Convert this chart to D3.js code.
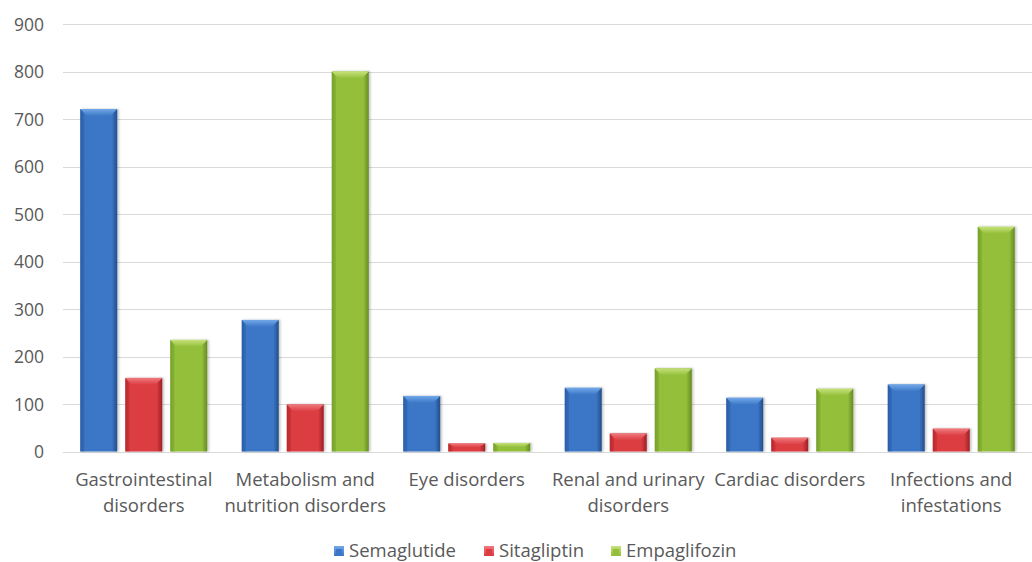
<!DOCTYPE html>
<html><head><meta charset="utf-8">
<script src="https://cdn.jsdelivr.net/npm/d3@7"></script>
<style>
html,body{margin:0;padding:0;background:#fff;}
svg{display:block;font-family:"Open Sans", sans-serif;}
</style></head>
<body><svg id="chart" width="1032" height="562"></svg>
<script>
const categories = ["Gastrointestinal\ndisorders","Metabolism and\nnutrition disorders","Eye disorders","Renal and urinary\ndisorders","Cardiac disorders","Infections and\ninfestations"];
const seriesNames = ["Semaglutide","Sitagliptin","Empaglifozin"];
const semaglutide = [721, 277, 117, 134, 113, 141];
const sitagliptin = [155, 99, 17, 38, 29, 48];
const empaglifozin = [235, 800, 18, 175, 132, 473];
const yTicks = [0,100,200,300,400,500,600,700,800,900];
const colors = {
  Semaglutide: {mid:"#3b77c6", edge:"#2a5da6", top:"#72a8e8", dark:"#224d8a"},
  Sitagliptin: {mid:"#db3c41", edge:"#b8282d", top:"#f07a7d", dark:"#9b2025"},
  Empaglifozin: {mid:"#93bf3b", edge:"#76a02a", top:"#c6e27a", dark:"#668b22"}
};
const seriesValues = [semaglutide, sitagliptin, empaglifozin];

const svg = d3.select("#chart");
const m = {left:63};
const W = 1032;
const y = d3.scaleLinear().domain([0,900]).range([451.5, 24]);
const x0 = d3.scaleBand().domain(categories).range([m.left, W]).padding(0);
const x1 = d3.scaleBand().domain(seriesNames).range([0, x0.bandwidth()]).paddingInner(0.178).paddingOuter(0.383);

const defs = svg.append("defs");
seriesNames.forEach((s,i)=>{
  const c = colors[s];
  const g = defs.append("linearGradient").attr("id","g"+i).attr("x1","0").attr("x2","1").attr("y1","0").attr("y2","0");
  g.append("stop").attr("offset","0").attr("stop-color",c.edge);
  g.append("stop").attr("offset","0.12").attr("stop-color",c.mid);
  g.append("stop").attr("offset","0.85").attr("stop-color",c.mid);
  g.append("stop").attr("offset","1").attr("stop-color",c.dark);
  const t = defs.append("linearGradient").attr("id","t"+i).attr("x1","0").attr("x2","0").attr("y1","0").attr("y2","1");
  t.append("stop").attr("offset","0").attr("stop-color",c.top);
  t.append("stop").attr("offset","1").attr("stop-color",c.mid);
});
const f = defs.append("filter").attr("id","sh").attr("x","-20%").attr("y","-5%").attr("width","140%").attr("height","110%");
f.append("feDropShadow").attr("dx",1.5).attr("dy",0).attr("stdDeviation",1.2).attr("flood-color","#000").attr("flood-opacity",0.25);

// grid
svg.append("g").selectAll("line").data(yTicks).join("line")
  .attr("x1", m.left).attr("x2", W).attr("y1", d=>Math.round(y(d))+0.5).attr("y2", d=>Math.round(y(d))+0.5)
  .attr("stroke","#d9d9d9").attr("stroke-width",1);

// y axis
const yAxis = d3.axisLeft(y).tickValues(yTicks).tickSize(0).tickPadding(0);
const ya = svg.append("g").attr("transform","translate(44,0)").call(yAxis);
ya.select(".domain").remove();
ya.selectAll("text").attr("fill","#595959").style("font-size","17.5px").style("font-family","'Open Sans', sans-serif").attr("dy","0.36em");

// bars
const groups = svg.append("g").selectAll("g").data(categories).join("g")
  .attr("transform", d=>`translate(${x0(d)},0)`);
groups.each(function(cat, ci){
  const g = d3.select(this);
  seriesNames.forEach((s, si)=>{
    const v = seriesValues[si][ci];
    const bx = x1(s), bw = x1.bandwidth();
    const top = y(v), bot = y(0);
    const bg = g.append("g").attr("filter","url(#sh)");
    bg.append("rect").attr("x",bx).attr("y",top).attr("width",bw).attr("height",bot-top).attr("fill",`url(#g${si})`);
    const bev = Math.min(7, (bot-top)/2);
    const ins = 7;
    bg.append("path").attr("d",`M${bx},${top} L${bx+bw},${top} L${bx+bw-ins},${top+bev} L${bx+ins},${top+bev} Z`).attr("fill",`url(#t${si})`);
    bg.append("path").attr("d",`M${bx},${top} L${bx+ins*0.6},${top+bev} L${bx+ins*0.6},${bot} L${bx},${bot} Z`).attr("fill",colors[s].edge).attr("opacity",0.35);
  });
});

// x labels
groups.each(function(cat){
  const lines = cat.split("\n");
  const t = d3.select(this).append("text").attr("x", x0.bandwidth()/2).attr("y", 486)
    .attr("text-anchor","middle").attr("fill","#595959").style("font-size","18.5px");
  lines.forEach((l,i)=> t.append("tspan").attr("x", x0.bandwidth()/2).attr("dy", i===0?0:26).text(l));
});

// legend
const legendX = [334, 484, 611];
const lg = svg.append("g").selectAll("g").data(seriesNames).join("g")
  .attr("transform",(d,i)=>`translate(${legendX[i]},546)`);
lg.append("rect").attr("width",10).attr("height",10).attr("fill",(d,i)=>`url(#t${i})`);
lg.append("rect").attr("x",2).attr("y",3).attr("width",6).attr("height",7).attr("fill",(d,i)=>colors[d].mid);
lg.append("text").attr("x",15).attr("y",11).attr("fill","#595959").style("font-size","18.5px").text(d=>d);
</script></body></html>
